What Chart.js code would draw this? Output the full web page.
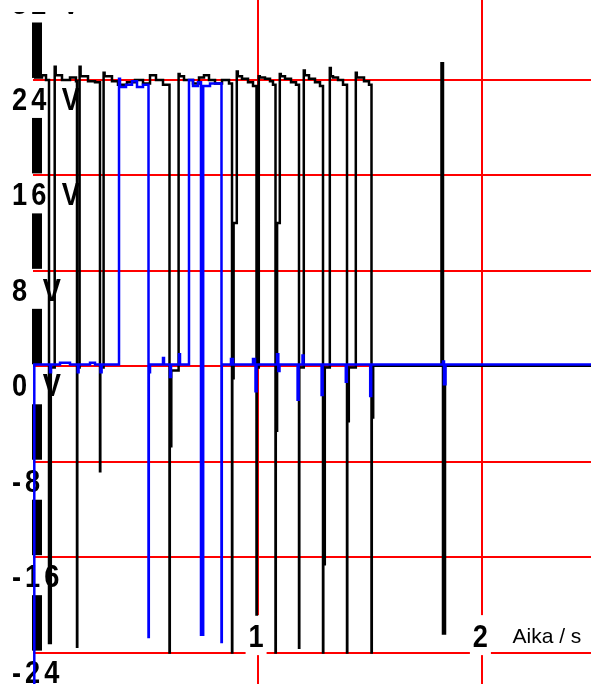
<!DOCTYPE html>
<html>
<head>
<meta charset="utf-8">
<script src="https://cdn.jsdelivr.net/npm/chart.js@4.4.1/dist/chart.umd.min.js"></script>
<style>
  html, body { margin: 0; padding: 0; background: #ffffff; }
  canvas { display: block; }
</style>
</head>
<body>
<canvas id="scope" width="591" height="684"></canvas>
<script>
// Grid / tick values
const xTicks = [1, 2];
const xTickLabels = ['1', '2'];
const yTicks = [32, 24, 16, 8, 0, -8, -16, -24];
const yTickLabels = ['32 V', '24 V', '16 V', '8 V', '0 V', '-8', '-16', '-24'];
const timeAxisTitle = 'Aika / s';

// Channel A (black): each point is the time the level changes and the new level (s, V)
const blackTime = [
  0.0009, 0.0366, 0.0544,
  0.0678, 0.0758, 0.0932, 0.0976,
  0.1257, 0.1614, 0.1881,
  0.1926, 0.1939, 0.2042, 0.2086,
  0.2417, 0.2729,
  0.2951, 0.2965, 0.3112, 0.3156,
  0.3486, 0.3754, 0.4155, 0.4512, 0.4868, 0.5181, 0.5448, 0.5760,
  0.6050, 0.6063, 0.6130, 0.6456, 0.6500,
  0.6697, 0.7098, 0.7365, 0.7588, 0.7811, 0.8079, 0.8391, 0.8703,
  0.8837, 0.8850, 0.8908, 0.9050, 0.9095,
  0.9282, 0.9550, 0.9773,
  0.9929, 0.9942, 1.0031, 1.0076,
  1.0308, 1.0531, 1.0664,
  1.0776, 1.0789, 1.0847, 1.0967, 1.1012,
  1.1199, 1.1467, 1.1690,
  1.1824, 1.1837, 1.2037, 1.2082,
  1.2270, 1.2537, 1.2760,
  1.2894, 1.2907, 1.2974, 1.3197, 1.3241,
  1.3340, 1.3563, 1.3786,
  1.3964, 1.3977, 1.4044, 1.4356, 1.4400,
  1.4454, 1.4722, 1.4945,
  1.5056, 1.5069, 1.5131,
  1.8176, 1.8243, 1.8333, 2.4842
];
const blackVolt = [
  24.2, 24.4, 24.0,
  -23.2, -0.1, 25.1, 24.4,
  24.0, 24.2, 23.9,
  -23.5, -0.1, 25.1, 24.3,
  23.9, 23.8,
  -8.8, -0.1, 24.6, 24.3,
  23.9, 23.6, 23.8, 24.0, 23.7, 24.4, 24.0, 23.6,
  -24.0, -6.7, -0.35, 24.5, 24.3,
  24.0, 23.7, 24.2, 24.4, 24.0, 23.7, 24.0, 23.7,
  -24.0, -1.0, 12.0, 24.7, 24.3,
  24.1, 23.8, 23.5,
  -20.8, -0.1, 24.3, 24.2,
  24.1, 23.9, 23.6,
  -24.0, -5.4, 12.0, 24.5, 24.3,
  24.1, 23.8, 23.6,
  -23.6, -0.1, 24.8, 24.4,
  24.1, 23.8, 23.5,
  -24.0, -16.6, -0.1, 25.0, 24.3,
  24.2, 24.0, 23.6,
  -24.0, -4.6, -0.1, 24.6, 24.2,
  24.2, 23.9, 23.6,
  -24.0, -4.3, 0.05,
  25.4, -22.4, 0.05, 0.05
];

// Channel B (blue): each point is the time the level changes and the new level (s, V)
const blueTime = [
  0.0009, 0.0022, 0.0722, 0.0767, 0.1168, 0.1614, 0.1962, 0.1997, 0.2506, 0.2729, 0.2978, 0.3023,
  0.3799, 0.3843, 0.4111, 0.4378, 0.4601, 0.4868,
  0.5114, 0.5127, 0.5181, 0.5760, 0.5805, 0.6072, 0.6117, 0.6474, 0.6518,
  0.6919, 0.7098, 0.7321,
  0.7454, 0.7552, 0.7856,
  0.8368, 0.8382, 0.8792, 0.8881, 0.9773, 0.9862, 0.9884, 0.9929,
  1.0843, 1.0901, 1.0954,
  1.1761, 1.1806, 1.1980, 1.2024,
  1.2831, 1.2876, 1.3910, 1.3955, 1.4998, 1.5042,
  1.8243, 1.8288, 1.8355, 2.4842
];
const blueVolt = [
  -28.0, 0.15, -0.5, 0.15, 0.3, 0.15, -0.5, 0.15, 0.3, 0.15, -0.5, 0.15,
  24.1, 23.4, 23.6, 23.9, 23.4, 23.6,
  -22.7, -0.5, 0.15, 0.7, 0.15, -0.9, 0.15, 1.0, 0.15,
  24.0, 23.5, 23.8,
  -22.5, 23.5, 23.7,
  -23.1, 0.15, 0.6, 0.15, 0.6, 0.15, -2.1, 0.15,
  1.0, -0.4, 0.15,
  -2.8, 0.15, 0.9, 0.15,
  -2.4, 0.15, -1.3, 0.15, -2.5, 0.15,
  0.4, -1.5, 0.15, 0.15
];

const toPoints = (ts, vs) => ts.map((t, i) => ({ x: t, y: vs[i] }));

// Draws text one glyph at a time, horizontally condensed, with extra tracking
function drawCondensed(ctx, text, x, base, sx, gap) {
  for (const ch of text) {
    const w = ctx.measureText(ch).width;
    if (ch !== ' ') {
      ctx.save();
      ctx.translate(x, base);
      ctx.scale(sx, 1);
      ctx.fillText(ch, 0, 0);
      ctx.restore();
    }
    x += w * sx + gap;
  }
}

// Scope screen: thick left axis, red graticule and labels
const scopeFrame = {
  id: 'scopeFrame',
  beforeDatasetsDraw(chart) {
    const { ctx, width, height } = chart;
    const xs = chart.scales.x, ys = chart.scales.y;
    ctx.save();

    // thick vertical axis bar
    ctx.fillStyle = '#000000';
    ctx.fillRect(32, 0, 10, height);

    // label backgrounds cut the axis bar
    ctx.fillStyle = '#ffffff';
    yTicks.forEach(v => {
      const py = ys.getPixelForValue(v);
      ctx.fillRect(26, py - 2, 22, 40);
    });

    // red graticule
    ctx.strokeStyle = '#ff0000';
    ctx.lineWidth = 2;
    yTicks.forEach(v => {
      const py = Math.round(ys.getPixelForValue(v));
      ctx.beginPath();
      ctx.moveTo(33, py);
      ctx.lineTo(width, py);
      ctx.stroke();
    });
    xTicks.forEach(t => {
      const px = Math.round(xs.getPixelForValue(t));
      ctx.beginPath();
      ctx.moveTo(px, 0);
      ctx.lineTo(px, height);
      ctx.stroke();
    });

    const labelFont = 'bold 32px "Liberation Sans", Arial, sans-serif';
    const sx = 0.85, gap = 4;

    // time tick labels sit on white boxes over the bottom line
    const xBase = ys.getPixelForValue(-24) - 5.5;
    ctx.font = labelFont;
    ctx.textBaseline = 'alphabetic';
    ctx.textAlign = 'left';
    xTicks.forEach((t, i) => {
      const cx = xs.getPixelForValue(t) - 2;
      ctx.fillStyle = '#ffffff';
      ctx.fillRect(cx - 10.5, xBase - 32, 21, 40);
      ctx.fillStyle = '#000000';
      const w = ctx.measureText(xTickLabels[i]).width * sx;
      drawCondensed(ctx, xTickLabels[i], cx - w / 2, xBase, sx, gap);
    });

    // voltage tick labels
    ctx.fillStyle = '#000000';
    yTicks.forEach((v, i) => {
      const py = ys.getPixelForValue(v);
      drawCondensed(ctx, yTickLabels[i], 12, py + 30, sx, gap);
    });
    // the screen's top edge hides most of the uppermost label
    ctx.fillStyle = '#ffffff';
    ctx.fillRect(0, 0, 90, 12);

    // axis title
    ctx.fillStyle = '#000000';
    ctx.font = '21px "Liberation Sans", Arial, sans-serif';
    ctx.fillText(timeAxisTitle, 512.5, 643);

    ctx.restore();
  }
};

new Chart(document.getElementById('scope'), {
  type: 'line',
  data: {
    datasets: [
      {
        label: 'B',
        data: toPoints(blueTime, blueVolt),
        borderColor: '#0000ff',
        borderWidth: 2.5,
        stepped: 'before',
        order: 0
      },
      {
        label: 'A',
        data: toPoints(blackTime, blackVolt),
        borderColor: '#000000',
        borderWidth: 2.5,
        stepped: 'before',
        order: 1
      }
    ]
  },
  options: {
    responsive: false,
    devicePixelRatio: 1,
    animation: false,
    layout: { padding: 0 },
    elements: {
      point: { radius: 0, hoverRadius: 0 },
      line: { tension: 0, fill: false }
    },
    scales: {
      x: { type: 'linear', min: -0.1507, max: 2.4842, display: false },
      y: { type: 'linear', min: -26.63, max: 30.70, display: false }
    },
    plugins: {
      legend: { display: false },
      tooltip: { enabled: false }
    },
    events: []
  },
  plugins: [scopeFrame]
});
</script>
</body>
</html>
